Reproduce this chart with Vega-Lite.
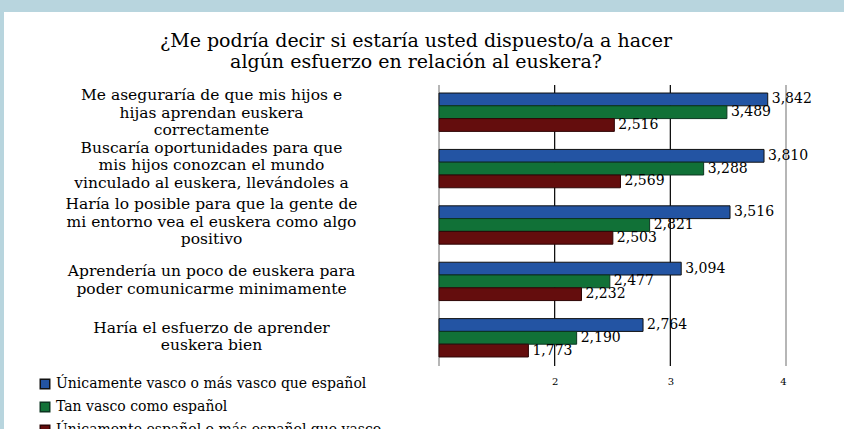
{
  "$schema": "https://vega.github.io/schema/vega-lite/v6.json",
  "width": 840,
  "height": 417,
  "autosize": {"type": "none"},
  "padding": {"left": 4, "top": 12, "right": 0, "bottom": 0},
  "background": "#B8D5DE",
  "config": {
    "view": {"fill": "white", "stroke": null},
    "locale": {"number": {"decimal": ",", "thousands": ".", "grouping": [3], "currency": ["", "€"]}},
    "font": "DejaVu Serif"
  },
  "title": {
    "text": ["¿Me podría decir si estaría usted dispuesto/a a hacer", "algún esfuerzo en relación al euskera?"],
    "fontSize": 19,
    "fontWeight": "normal",
    "font": "DejaVu Serif",
    "color": "#000000",
    "anchor": "middle",
    "frame": "group",
    "offset": -60,
    "dx": -8,
    "lineHeight": 21
  },
  "data": {
    "values": [
      {"item": "Me aseguraría de que mis hijos e|hijas aprendan euskera|correctamente", "series": "Únicamente vasco o más vasco que español", "value": 3.842},
      {"item": "Me aseguraría de que mis hijos e|hijas aprendan euskera|correctamente", "series": "Tan vasco como español", "value": 3.489},
      {"item": "Me aseguraría de que mis hijos e|hijas aprendan euskera|correctamente", "series": "Únicamente español o más español que vasco", "value": 2.516},
      {"item": "Buscaría oportunidades para que|mis hijos conozcan el mundo|vinculado al euskera, llevándoles a", "series": "Únicamente vasco o más vasco que español", "value": 3.810},
      {"item": "Buscaría oportunidades para que|mis hijos conozcan el mundo|vinculado al euskera, llevándoles a", "series": "Tan vasco como español", "value": 3.288},
      {"item": "Buscaría oportunidades para que|mis hijos conozcan el mundo|vinculado al euskera, llevándoles a", "series": "Únicamente español o más español que vasco", "value": 2.569},
      {"item": "Haría lo posible para que la gente de|mi entorno vea el euskera como algo|positivo", "series": "Únicamente vasco o más vasco que español", "value": 3.516},
      {"item": "Haría lo posible para que la gente de|mi entorno vea el euskera como algo|positivo", "series": "Tan vasco como español", "value": 2.821},
      {"item": "Haría lo posible para que la gente de|mi entorno vea el euskera como algo|positivo", "series": "Únicamente español o más español que vasco", "value": 2.503},
      {"item": "Aprendería un poco de euskera para|poder comunicarme minimamente", "series": "Únicamente vasco o más vasco que español", "value": 3.094},
      {"item": "Aprendería un poco de euskera para|poder comunicarme minimamente", "series": "Tan vasco como español", "value": 2.477},
      {"item": "Aprendería un poco de euskera para|poder comunicarme minimamente", "series": "Únicamente español o más español que vasco", "value": 2.232},
      {"item": "Haría el esfuerzo de aprender|euskera bien", "series": "Únicamente vasco o más vasco que español", "value": 2.764},
      {"item": "Haría el esfuerzo de aprender|euskera bien", "series": "Tan vasco como español", "value": 2.190},
      {"item": "Haría el esfuerzo de aprender|euskera bien", "series": "Únicamente español o más español que vasco", "value": 1.773}
    ]
  },
  "layer": [
    {
      "data": {"values": [{"g": 1}, {"g": 2}, {"g": 3}, {"g": 4}]},
      "mark": {"type": "rule", "strokeWidth": 1.2},
      "encoding": {
        "x": {
          "field": "g",
          "type": "quantitative",
          "scale": {"domain": [1, 4], "range": [435, 782], "nice": false, "zero": false},
          "axis": {
            "orient": "bottom",
            "offset": -63,
            "values": [2, 3, 4],
            "format": "d",
            "domain": false,
            "ticks": false,
            "grid": false,
            "labelFontSize": 10,
            "labelPadding": 10,
            "labelColor": "#000000",
            "labelFont": "DejaVu Serif",
            "title": null
          }
        },
        "y": {"datum": 0, "type": "quantitative", "scale": {"domain": [0, 1], "range": [354, 73]}, "axis": null},
        "y2": {"datum": 1},
        "color": {"condition": {"test": "datum.g == 2 || datum.g == 3", "value": "#000000"}, "value": "#858585"}
      }
    },
    {
      "encoding": {
        "y": {
          "field": "item",
          "type": "nominal",
          "sort": null,
          "scale": {"range": [72, 354], "paddingInner": 0.32, "paddingOuter": 0.16},
          "axis": {
            "orient": "left",
            "offset": -207,
            "domain": false,
            "ticks": false,
            "grid": false,
            "labelAlign": "center",
            "labelBaseline": "middle",
            "labelPadding": 0,
            "labelFontSize": 15.5,
            "labelLineHeight": 17.5,
            "labelLimit": 0,
            "labelColor": "#000000",
            "labelFont": "DejaVu Serif",
            "labelExpr": "split(datum.label, '|')",
            "labelOffset": {
              "condition": [
                {"test": "indexof(datum.value, 'Me aseg') == 0", "value": -17},
                {"test": "length(split(datum.value, '|')) == 3", "value": -21}
              ],
              "value": -10
            },
            "title": null
          }
        },
        "yOffset": {
          "field": "series",
          "type": "nominal",
          "sort": ["Únicamente vasco o más vasco que español", "Tan vasco como español", "Únicamente español o más español que vasco"]
        }
      },
      "layer": [
        {
          "mark": {"type": "bar", "strokeWidth": 1},
          "encoding": {
            "x": {"field": "value", "type": "quantitative"},
            "x2": {"datum": 1},
            "fill": {
              "field": "series",
              "type": "nominal",
              "sort": ["Únicamente vasco o más vasco que español", "Tan vasco como español", "Únicamente español o más español que vasco"],
              "scale": {
                "domain": ["Únicamente vasco o más vasco que español", "Tan vasco como español", "Únicamente español o más español que vasco"],
                "range": ["#2354A3", "#117137", "#640D0D"]
              },
              "legend": {
                "orient": "none",
                "legendX": 34,
                "legendY": 365,
                "title": null,
                "direction": "vertical",
                "symbolType": "square",
                "symbolSize": 90,
                "labelFontSize": 14,
                "labelFont": "DejaVu Serif",
                "labelColor": "#000000",
                "labelLimit": 0,
                "rowPadding": 7
              }
            },
            "stroke": {
              "field": "series",
              "type": "nominal",
              "scale": {
                "domain": ["Únicamente vasco o más vasco que español", "Tan vasco como español", "Únicamente español o más español que vasco"],
                "range": ["#111111", "#0B3520", "#2E0606"]
              },
              "legend": null
            }
          }
        },
        {
          "mark": {"type": "text", "align": "left", "baseline": "middle", "dx": 4, "fontSize": 14, "font": "DejaVu Serif", "color": "#000000"},
          "encoding": {
            "x": {"field": "value", "type": "quantitative"},
            "text": {"field": "value", "type": "quantitative", "format": ".3f"}
          }
        }
      ]
    }
  ],
  "resolve": {"scale": {"y": "independent"}}
}
